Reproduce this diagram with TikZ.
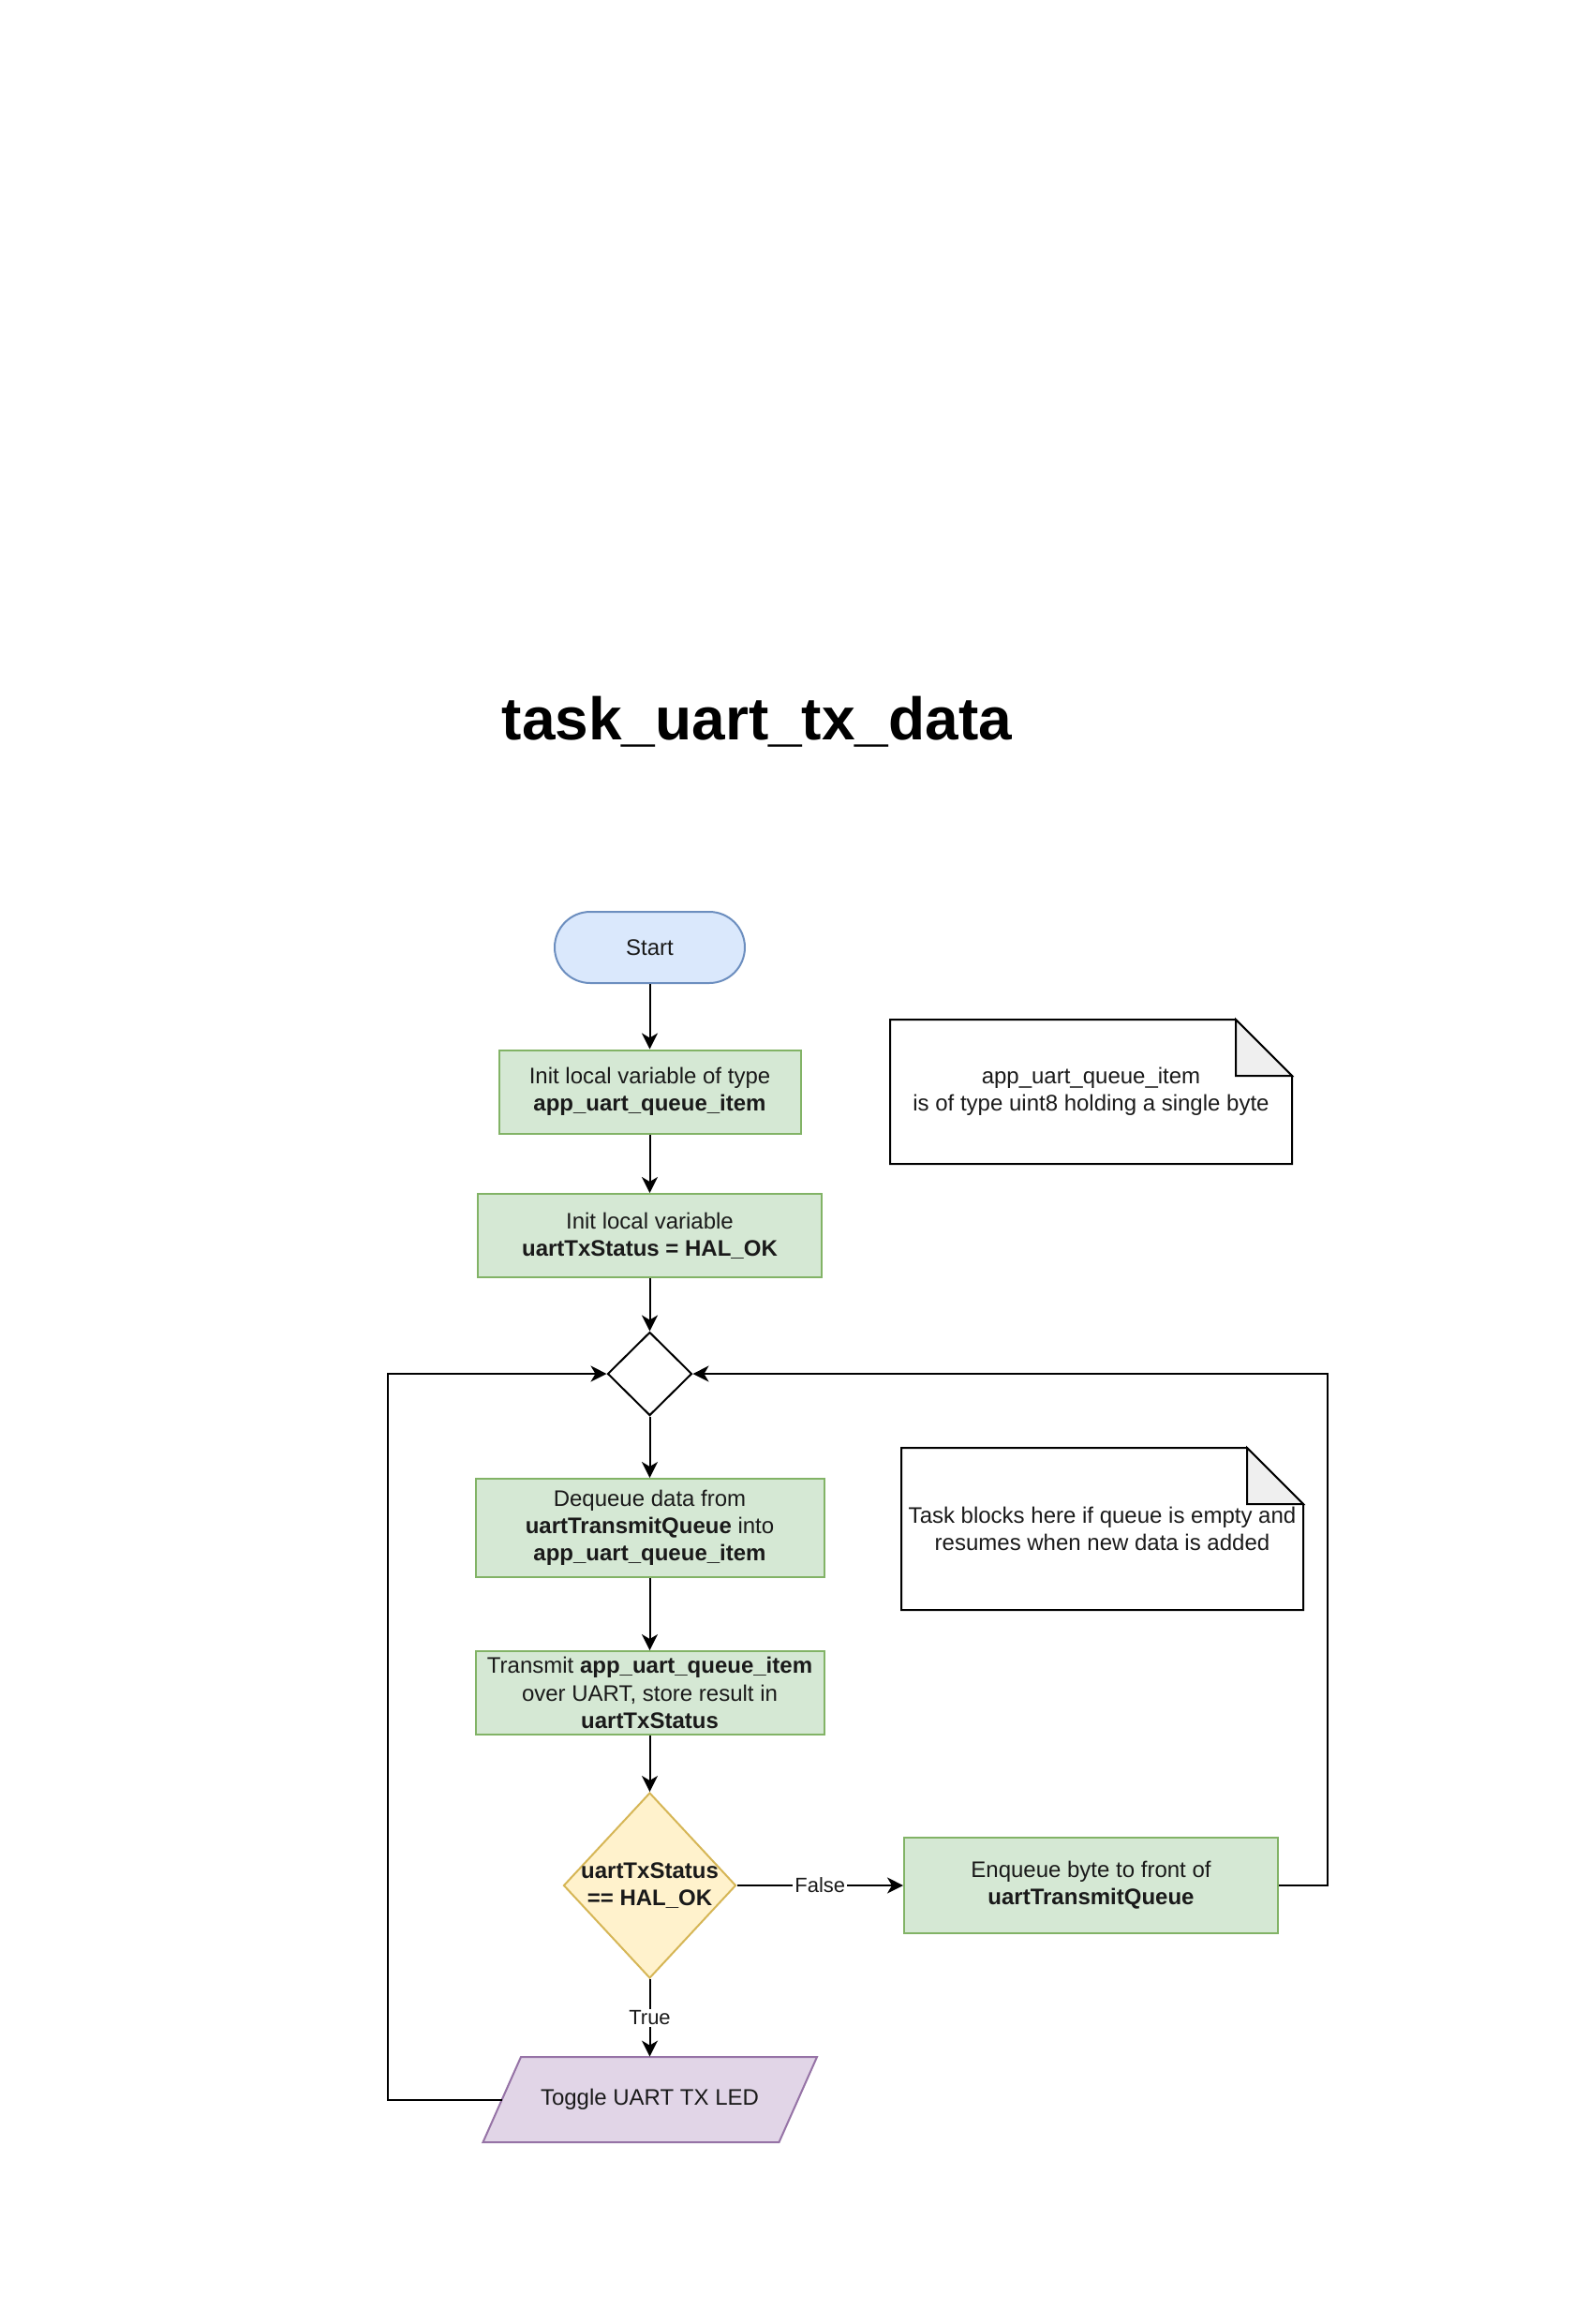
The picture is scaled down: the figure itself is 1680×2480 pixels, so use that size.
\documentclass[tikz,border=0pt]{standalone}
\usepackage{fontspec}
\setmainfont{Liberation Sans}
\usetikzlibrary{shapes.geometric,arrows.meta,calc}
\definecolor{bluefill}{HTML}{DAE8FC}
\definecolor{blueline}{HTML}{6C8EBF}
\definecolor{greenfill}{HTML}{D5E8D4}
\definecolor{greenline}{HTML}{82B366}
\definecolor{yellowfill}{HTML}{FFF2CC}
\definecolor{yellowline}{HTML}{D6B656}
\definecolor{purplefill}{HTML}{E1D5E7}
\definecolor{purpleline}{HTML}{9673A6}
\definecolor{foldgray}{HTML}{EFEFEF}
\definecolor{txt}{HTML}{1A1A1A}
\begin{document}
\begin{tikzpicture}[x=0.5pt,y=-0.5pt,
  every node/.style={font=\fontsize{12}{14.6}\selectfont, text=txt},
  arr/.style={draw=black, line width=1pt, -{Stealth[length=8.5pt,width=8.5pt,inset=2.5pt]}},
  startbox/.style={rectangle, rounded corners=19pt, draw=blueline, fill=bluefill, line width=1pt, minimum width=101.5pt, minimum height=38pt},
  procbox/.style={rectangle, draw=greenline, fill=greenfill, line width=1pt, align=center, inner sep=1pt},
  decbox/.style={diamond, line width=1pt, inner sep=0pt},
  notebody/.style={draw=black, line width=1pt, fill=white},
  notefold/.style={draw=black, line width=1pt, fill=foldgray},
  lbl/.style={fill=white, inner sep=1pt, font=\fontsize{11}{13}\selectfont}
]
\fill[white] (0,0) rectangle (1680,2480);
\useasboundingbox (0,0) rectangle (1680,2480);

% title
\node[font=\fontsize{32}{38}\selectfont\bfseries, text=black, anchor=base] (title) at (808,789) {task\_uart\_tx\_data};

% flow nodes
\node[startbox] (start) at (693.5,1011) {Start};
\node[procbox, minimum width=161pt, minimum height=44.5pt] (init1) at (693.5,1165) {Init local variable of type\\\textbf{app\_uart\_queue\_item}};
\node[procbox, minimum width=183.5pt, minimum height=44.5pt] (init2) at (693.5,1318.5) {Init local variable\\\textbf{uartTxStatus = HAL\_OK}};
\node[decbox, draw=black, fill=white, minimum width=45pt, minimum height=44.5pt] (merge) at (693.5,1466) {};
\node[procbox, minimum width=186pt, minimum height=52.5pt] (deq) at (693.5,1630.5) {Dequeue data from\\\textbf{uartTransmitQueue} into\\\textbf{app\_uart\_queue\_item}};
\node[procbox, minimum width=186pt, minimum height=44.5pt] (tx) at (693.5,1806.5) {Transmit \textbf{app\_uart\_queue\_item}\\over UART, store result in\\\textbf{uartTxStatus}};
\node[decbox, draw=yellowline, fill=yellowfill, minimum width=92pt, minimum height=99pt] (dec) at (693.5,2012) {};
\node[align=center, font=\fontsize{12}{14.6}\selectfont\bfseries] (dectext) at (dec.center) {uartTxStatus\\== HAL\_OK};
\node[procbox, minimum width=199.5pt, minimum height=51pt] (enq) at (1164.5,2012) {Enqueue byte to front of\\\textbf{uartTransmitQueue}};

% parallelogram
\filldraw[draw=purpleline, fill=purplefill, line width=1pt] (556,2195) -- (872,2195) -- (831.5,2286) -- (515.5,2286) -- cycle;
\node[minimum width=150pt, minimum height=45.5pt, inner sep=0pt] (led) at (693.5,2240.5) {Toggle UART TX LED};
\coordinate (ledW) at (535.5,2240.5);

% notes
\filldraw[notebody] (950,1088) -- (1319,1088) -- (1379,1148) -- (1379,1242) -- (950,1242) -- cycle;
\filldraw[notefold] (1319,1088) -- (1319,1148) -- (1379,1148) -- cycle;
\node[align=center] (note1) at (1164.5,1165) {app\_uart\_queue\_item\\is of type uint8 holding a single byte};

\filldraw[notebody] (962,1545) -- (1331,1545) -- (1391,1605) -- (1391,1718) -- (962,1718) -- cycle;
\filldraw[notefold] (1331,1545) -- (1331,1605) -- (1391,1605) -- cycle;
\node[align=center] (note2) at (1176.5,1631.5) {Task blocks here if queue is empty and\\resumes when new data is added};

% connectors
\draw[arr] (start) -- (init1);
\draw[arr] (init1) -- (init2);
\draw[arr] (init2) -- (merge);
\draw[arr] (merge) -- (deq);
\draw[arr] (deq) -- (tx);
\draw[arr] (tx) -- (dec);
\draw[arr] (dec.east) -- node[lbl]{False} (enq.west);
\draw[arr] (dec.south) -- node[lbl]{True} (led.north);
\draw[arr] (ledW) -- ++(-121.5,0) |- (merge.west);
\draw[arr] (enq.east) -- ++(52,0) |- (merge.east);
\end{tikzpicture}
\end{document}
